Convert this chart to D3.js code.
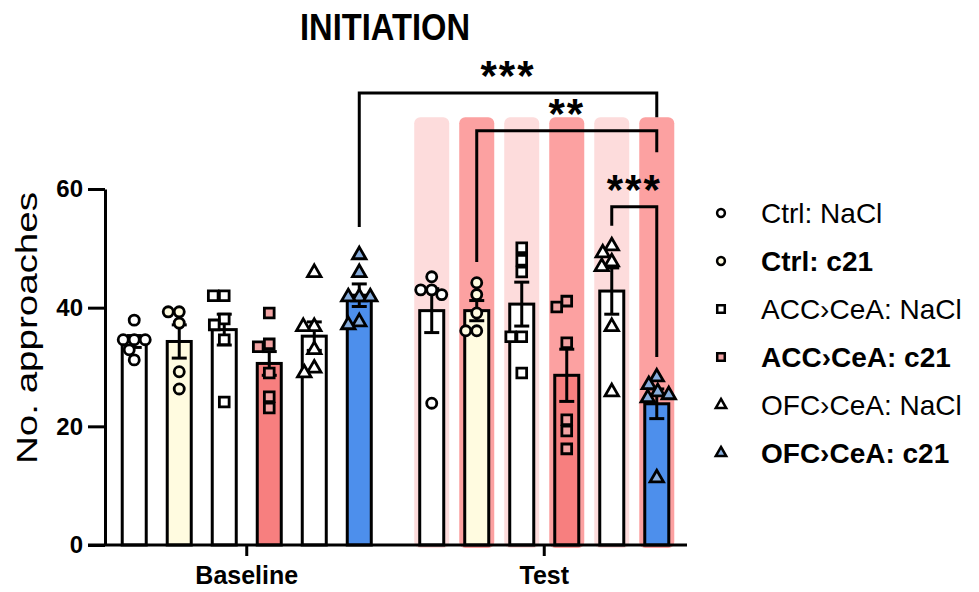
<!DOCTYPE html>
<html>
<head>
<meta charset="utf-8">
<script src="https://cdn.jsdelivr.net/npm/d3@7"></script>
<style>
  body { margin: 0; background: #fff; }
  text { font-family: "Liberation Sans", Arial, sans-serif; }
</style>
</head>
<body>
<div id="chart"></div>
<script>
// Groups and phases
const groups = ["Ctrl: NaCl", "Ctrl: c21", "ACC\u203aCeA: NaCl", "ACC\u203aCeA: c21", "OFC\u203aCeA: NaCl", "OFC\u203aCeA: c21"];
const phases = ["Baseline", "Test"];
const yTicks = [0, 20, 40, 60];

// Mean and SEM per group
const meanBaseline = [34.3, 34.3, 36.3, 30.6, 35.2, 42.1];
const semBaseline = [1.0, 2.8, 2.6, 2.0, 2.4, 1.9];
const meanTest = [39.5, 39.5, 40.6, 28.6, 42.8, 23.8];
const semTest = [3.7, 1.7, 3.7, 4.4, 3.9, 2.5];

// Individual animals
const ptsBaseline = [
  [37.9, 34.6, 34.6, 34.6, 32.9, 31.2],
  [39.3, 39.3, 37.4, 29.2, 26.3],
  [42.0, 42.0, 38.1, 37.1, 34.6, 24.1],
  [39.1, 33.9, 33.4, 29.0, 25.0, 23.1],
  [45.9, 36.8, 36.8, 32.9, 29.8, 29.0],
  [48.9, 45.9, 41.8, 41.8, 41.8, 37.6, 37.1]
];
const ptsTest = [
  [45.2, 43.0, 43.0, 42.2, 23.9],
  [44.2, 42.2, 39.1, 36.1, 36.1],
  [50.1, 48.0, 46.0, 35.1, 35.1, 29.0],
  [41.1, 40.1, 34.1, 21.1, 19.2, 16.2],
  [50.4, 49.2, 47.7, 46.9, 36.8, 25.8],
  [28.3, 27.0, 25.8, 25.3, 24.8, 11.3]
];

// Significance comparisons: [phase, group] -> [phase, group]
const comparisons = [
  { a: ["Baseline", 5], b: ["Test", 5], label: "***", line: 76.2, legA: 53.6, legB: 72.1 },
  { a: ["Test", 1], b: ["Test", 5], label: "**", line: 69.8, legA: 47.7, legB: 66.2 },
  { a: ["Test", 4], b: ["Test", 5], label: "***", line: 57.0, legA: 53.8, legB: 31.7 }
];

const barFill = ["#ffffff", "#fffbe0", "#ffffff", "#f77f7f", "#ffffff", "#4d8fec"];
const ptFill = ["#ffffff", "#fffbe0", "#ffffff", "#f2a3a3", "#ffffff", "#86acdc"];
const bgFill = ["#fddcdc", "#fca1a1"];
const shapes = [d3.symbolCircle, d3.symbolCircle, d3.symbolSquare, d3.symbolSquare, d3.symbolTriangle, d3.symbolTriangle];
const shapeSize = [80, 80, 95, 95, 78, 78];

const width = 979, height = 592;

const svg = d3.select("#chart")
  .append("svg")
  .attr("width", width)
  .attr("height", height);

// Scales
const y = d3.scaleLinear().domain([0, 60]).range([545, 189]);
const x0 = d3.scaleBand().domain(phases).range([98, 693]);
const x1 = d3.scaleBand().domain(d3.range(groups.length))
  .range([0, x0.bandwidth()])
  .paddingInner(0.4)
  .paddingOuter(0.505);
const cx = (phase, i) => x0(phase) + x1(i) + x1.bandwidth() / 2;

const data = phases.map(p => ({
  phase: p,
  means: p === "Baseline" ? meanBaseline : meanTest,
  sems: p === "Baseline" ? semBaseline : semTest,
  pts: p === "Baseline" ? ptsBaseline : ptsTest
}));

// Pink background columns behind test bars
svg.append("g").selectAll("rect")
  .data(d3.range(groups.length))
  .join("rect")
  .attr("x", i => cx("Test", i) - 17.5)
  .attr("width", 35)
  .attr("y", y(72.1))
  .attr("height", y(-0.5) - y(72.1))
  .attr("rx", 6)
  .attr("fill", i => bgFill[i % 2]);

// Bars
const phaseG = svg.append("g").selectAll("g")
  .data(data)
  .join("g");

phaseG.selectAll("rect")
  .data(d => d.means.map((m, i) => ({ phase: d.phase, i, m })))
  .join("rect")
  .attr("x", d => x0(d.phase) + x1(d.i) + 1.5)
  .attr("width", x1.bandwidth() - 3)
  .attr("y", d => y(d.m))
  .attr("height", d => y(0) - y(d.m))
  .attr("fill", d => barFill[d.i])
  .attr("stroke", "#000")
  .attr("stroke-width", 3);

// Error bars
const errG = phaseG.selectAll("g.err")
  .data(d => d.means.map((m, i) => ({ phase: d.phase, i, m, s: d.sems[i] })))
  .join("g")
  .attr("class", "err")
  .attr("stroke", "#000")
  .attr("stroke-width", 3);

errG.append("line")
  .attr("x1", d => cx(d.phase, d.i)).attr("x2", d => cx(d.phase, d.i))
  .attr("y1", d => y(d.m - d.s)).attr("y2", d => y(d.m + d.s));
errG.selectAll("line.cap")
  .data(d => [d.m - d.s, d.m + d.s].map(v => ({ ...d, v })))
  .join("line")
  .attr("class", "cap")
  .attr("x1", d => cx(d.phase, d.i) - 7.5).attr("x2", d => cx(d.phase, d.i) + 7.5)
  .attr("y1", d => y(d.v)).attr("y2", d => y(d.v));

// Simple beeswarm so overlapping animals spread sideways
function swarm(values, dist) {
  const placed = [];
  values.slice().sort((a, b) => b - a).forEach(v => {
    const py = y(v);
    const cands = [0];
    for (let k = 1; k <= 30; k++) cands.push(-k, k);
    const off = cands.find(c => placed.every(p => Math.hypot(p.x - c, p.y - py) >= dist));
    placed.push({ x: off, y: py, v });
  });
  return placed;
}

phaseG.each(function (d) {
  const g = d3.select(this);
  d.pts.forEach((vals, i) => {
    g.append("g").selectAll("path")
      .data(swarm(vals, 11))
      .join("path")
      .attr("transform", p => `translate(${cx(d.phase, i) + p.x},${p.y})`)
      .attr("d", d3.symbol().type(shapes[i]).size(shapeSize[i]))
      .attr("fill", ptFill[i])
      .attr("stroke", "#000")
      .attr("stroke-width", 2.8);
  });
});

// Axes
const yAxis = svg.append("g")
  .attr("transform", "translate(105,0)")
  .call(d3.axisLeft(y).tickValues(yTicks).tickSize(17).tickSizeOuter(0).tickPadding(5));
yAxis.select(".domain").attr("stroke-width", 3);
yAxis.selectAll(".tick line").attr("stroke-width", 3);
yAxis.selectAll(".tick text")
  .attr("font-size", 24).attr("font-weight", "bold")
  .attr("font-family", "Liberation Sans, Arial, sans-serif")
  .attr("fill", "#000");

const xAxis = svg.append("g")
  .attr("transform", `translate(0,${y(0)})`)
  .call(d3.axisBottom(x0).tickSize(11).tickSizeOuter(0).tickPadding(10));
xAxis.select(".domain").remove();
xAxis.append("line")
  .attr("x1", 88).attr("x2", 687)
  .attr("stroke", "#000").attr("stroke-width", 3);
xAxis.selectAll(".tick line").attr("stroke-width", 3);
xAxis.selectAll(".tick text")
  .attr("font-size", 25).attr("font-weight", "bold")
  .attr("font-family", "Liberation Sans, Arial, sans-serif")
  .attr("fill", "#000");

// Axis label and title
svg.append("text")
  .attr("transform", "translate(37,328) rotate(-90)")
  .attr("text-anchor", "middle")
  .attr("font-size", 30)
  .attr("textLength", 272)
  .attr("lengthAdjust", "spacingAndGlyphs")
  .text("No. approaches");

svg.append("text")
  .attr("x", 385).attr("y", 40)
  .attr("text-anchor", "middle")
  .attr("font-size", 36).attr("font-weight", "bold")
  .attr("textLength", 170)
  .attr("lengthAdjust", "spacingAndGlyphs")
  .text("INITIATION");

// Significance brackets
const brG = svg.append("g");
comparisons.forEach(c => {
  const xa = cx(c.a[0], c.a[1]), xb = cx(c.b[0], c.b[1]);
  brG.append("path")
    .attr("d", `M${xa},${y(c.legA)}V${y(c.line)}H${xb}V${y(c.legB)}`)
    .attr("fill", "none")
    .attr("stroke", "#000")
    .attr("stroke-width", 3);
  brG.append("text")
    .attr("x", (xa + xb) / 2)
    .attr("y", y(c.line) - 3)
    .attr("text-anchor", "middle")
    .attr("font-size", 42).attr("font-weight", "bold")
    .attr("letter-spacing", 2)
    .text(c.label);
});

// Legend
const legend = svg.append("g").selectAll("g")
  .data(groups)
  .join("g")
  .attr("transform", (d, i) => `translate(721,${213 + i * 48})`);
legend.append("path")
  .attr("d", (d, i) => d3.symbol().type(shapes[i]).size(shapeSize[i] * 0.6)())
  .attr("fill", (d, i) => ptFill[i])
  .attr("stroke", "#000")
  .attr("stroke-width", 2.5);
legend.append("text")
  .attr("x", 40)
  .attr("dy", "0.35em")
  .attr("font-size", 28)
  .attr("font-weight", (d, i) => i % 2 ? "bold" : "normal")
  .text(d => d);
</script>
</body>
</html>
